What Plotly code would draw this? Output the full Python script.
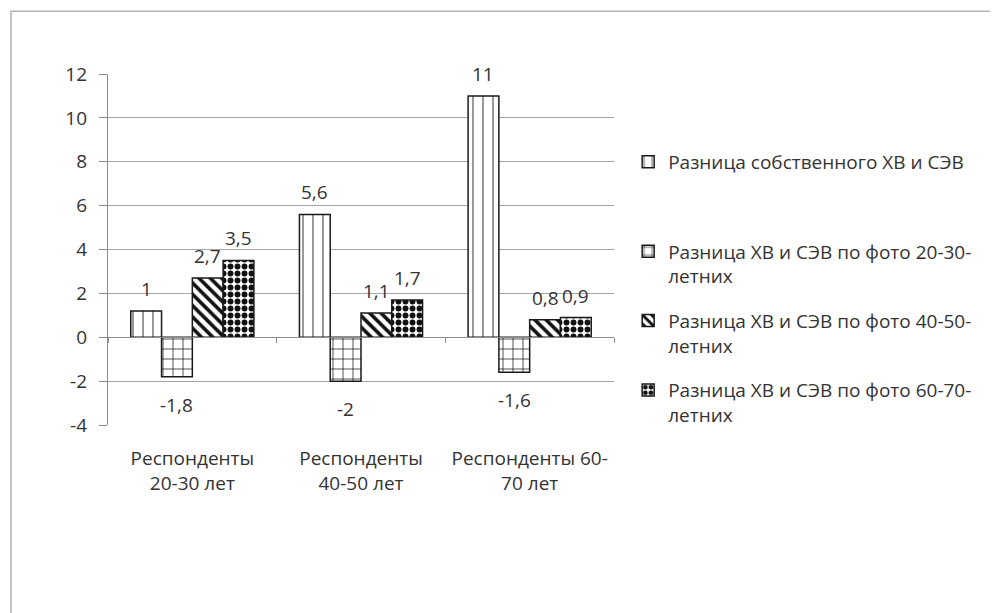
import plotly.graph_objects as go

# ---------------- data ----------------
categories = ["Респонденты<br>20-30 лет", "Респонденты<br>40-50 лет", "Респонденты 60-<br>70 лет"]

series_names = [
    "Разница собственного ХВ и СЭВ",
    "Разница ХВ и СЭВ по фото 20-30-<br>летних",
    "Разница ХВ и СЭВ по фото 40-50-<br>летних",
    "Разница ХВ и СЭВ по фото 60-70-<br>летних",
]

own_diff = [1.2, 5.6, 11.0]
photo_20_30 = [-1.8, -2.0, -1.6]
photo_40_50 = [2.7, 1.1, 0.8]
photo_60_70 = [3.5, 1.7, 0.9]

own_diff_labels = ["1", "5,6", "11"]
photo_20_30_labels = ["-1,8", "-2", "-1,6"]
photo_40_50_labels = ["2,7", "1,1", "0,8"]
photo_60_70_labels = ["3,5", "1,7", "0,9"]

y_tick_vals = [-4, -2, 0, 2, 4, 6, 8, 10, 12]
y_tick_text = ["-4", "-2", "0", "2", "4", "6", "8", "10", "12"]

# ---------------- styles ----------------
FONT = "Open Sans"
FS = 19
TXT = "#333333"
GRID = "#a6a6a6"
AXIS = "#8c8c8c"
BARGAP = 0.27

values = [own_diff, photo_20_30, photo_40_50, photo_60_70]
labels = [own_diff_labels, photo_20_30_labels, photo_40_50_labels, photo_60_70_labels]
patterns = [
    dict(shape="|", size=10, solidity=0.12, fgcolor="#555555"),
    dict(shape="+", size=10, solidity=0.14, fgcolor="#111111"),
    dict(shape="\\", size=8, solidity=0.45, fgcolor="#111111"),
    dict(shape=".", size=7, solidity=0.55, fgcolor="#111111"),
]
legends = ["legend", "legend2", "legend2", "legend2"]

fig = go.Figure()
for i, (name, vals, pat) in enumerate(zip(series_names, values, patterns)):
    fig.add_trace(go.Bar(
        x=categories, y=vals, name=name,
        legend=legends[i], legendgroup="g%d" % i,
        marker=dict(color="white",
                    line=dict(color="#1a1a1a", width=1.5),
                    pattern=dict(bgcolor="white", fillmode="replace", **pat)),
        hoverinfo="skip",
    ))

# data labels placed at each bar's value via the axes
w = (1 - BARGAP) / len(values)
annotations = []
for i, (vals, labs) in enumerate(zip(values, labels)):
    for j, (v, t) in enumerate(zip(vals, labs)):
        pos = v >= 0
        annotations.append(dict(
            x=j + (i - (len(values) - 1) / 2) * w, y=v, xref="x", yref="y",
            text=t, showarrow=False,
            yanchor="bottom" if pos else "top",
            yshift=7 if pos else -13,
            font=dict(family=FONT, size=FS, color=TXT),
        ))

fig.update_layout(
    width=998, height=613,
    margin=dict(l=100, r=392, t=66, b=196),
    paper_bgcolor="white", plot_bgcolor="white",
    barmode="group", bargap=BARGAP, bargroupgap=0,
    font=dict(family=FONT, size=FS, color=TXT),
    annotations=annotations,
    showlegend=True,
    legend=dict(x=1.028, y=0.804, xanchor="left", yanchor="top",
                font=dict(family=FONT, size=FS, color=TXT),
                bgcolor="rgba(0,0,0,0)", valign="top"),
    legend2=dict(x=1.028, y=0.549, xanchor="left", yanchor="top",
                 font=dict(family=FONT, size=FS, color=TXT),
                 bgcolor="rgba(0,0,0,0)", valign="top", tracegroupgap=17),
    shapes=[dict(type="rect", xref="paper", yref="paper",
                 x0=-0.1917, x1=2.0, y0=-1.0, y1=1.179,
                 line=dict(color="#b3b3b3", width=1.5), layer="below")],
)

fig.update_xaxes(
    type="category", categoryorder="array", categoryarray=categories,
    range=[-0.5, 2.5], anchor="free", position=0.25,
    showline=True, linecolor=AXIS, linewidth=1.3,
    ticks="outside", ticklen=5, tickcolor=AXIS, tickson="boundaries",
    showgrid=False, ticklabelstandoff=104,
    tickfont=dict(family=FONT, size=FS, color=TXT),
)
fig.update_yaxes(
    range=[-4, 12], tickvals=y_tick_vals, ticktext=y_tick_text,
    showgrid=True, gridcolor=GRID, gridwidth=1,
    showline=True, linecolor=AXIS, linewidth=1.3,
    ticks="outside", ticklen=8, tickcolor=AXIS,
    zeroline=False, ticklabelstandoff=8,
    tickfont=dict(family=FONT, size=FS, color=TXT),
)

fig.write_html("out.html")
